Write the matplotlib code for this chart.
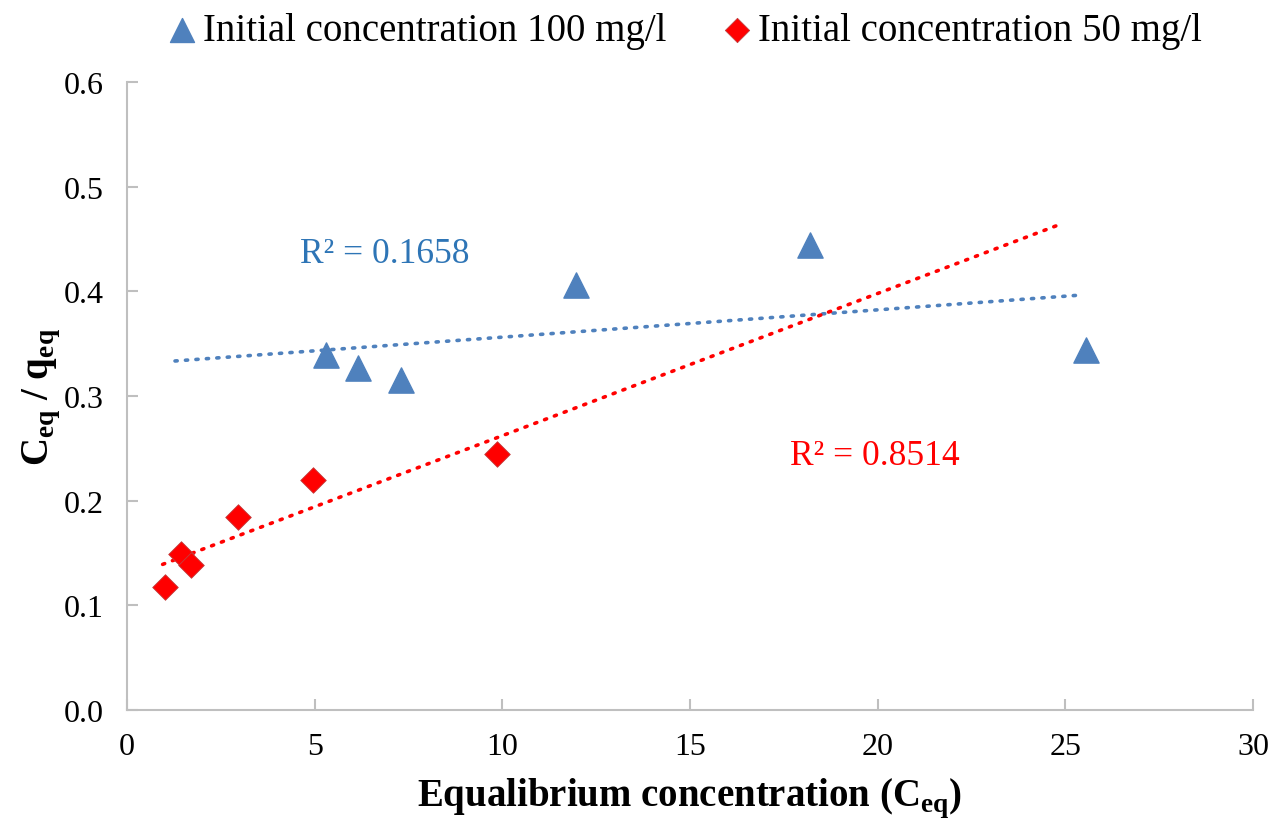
import numpy as np
import matplotlib
matplotlib.use('Agg')
import matplotlib.pyplot as plt

plt.rcParams['font.family'] = ['Liberation Serif', 'DejaVu Serif']
plt.rcParams['mathtext.fontset'] = 'custom'
plt.rcParams['mathtext.rm'] = 'Liberation Serif'
plt.rcParams['mathtext.bf'] = 'Liberation Serif:bold'

# данные
x100 = [5.3, 6.15, 7.3, 11.95, 18.2, 25.55]
y100 = [0.339, 0.327, 0.315, 0.406, 0.444, 0.344]
x50 = [1.0, 1.45, 1.7, 2.95, 4.95, 9.85]
y50 = [0.118, 0.149, 0.139, 0.184, 0.220, 0.245]
label100 = 'Initial concentration 100 mg/l'
label50 = 'Initial concentration 50 mg/l'
r2_100 = 'R² = 0.1658'
r2_50 = 'R² = 0.8514'
# диапазоны линий тренда (прогноз вперёд/назад как в Excel)
trend100 = (1.28, 25.35)
trend50 = (0.95, 24.8)

blue = '#4F81BD'
red = '#FF0000'
gray = '#BFBFBF'

fig = plt.figure(figsize=(12.8, 8.29), dpi=100)
ax = fig.add_axes([0.0992, 0.1423, 0.8797, 0.7576])

ax.scatter(x100, y100, marker='^', s=330, color=blue, zorder=3, label=label100)
ax.scatter(x50, y50, marker='D', s=170, color=red, edgecolor='#C04040',
           linewidth=0.6, zorder=3, label=label50)

# линейные тренды
k, b = np.polyfit(x100, y100, 1)
xt = np.array(trend100)
ax.plot(xt, k * xt + b, color=blue, lw=2.6, ls=(0, (0.6, 2.3)),
        dash_capstyle='round', zorder=2)
k, b = np.polyfit(x50, y50, 1)
xt = np.array(trend50)
ax.plot(xt, k * xt + b, color=red, lw=2.6, ls=(0, (0.6, 2.3)),
        dash_capstyle='round', zorder=2)

ax.text(4.6, 0.436, r2_100, color='#2E75B6', fontsize=25.5, va='center')
ax.text(17.67, 0.243, r2_50, color=red, fontsize=25.5, va='center')

ax.set_xlim(0, 30)
ax.set_ylim(0, 0.6)
ax.set_xticks(np.arange(0, 31, 5))
ax.set_yticks(np.arange(0, 0.61, 0.1))
ax.set_yticklabels(['%.1f' % v for v in np.arange(0, 0.61, 0.1)])
ax.tick_params(direction='in', length=8, width=1.5, color=gray,
               labelsize=23)
ax.tick_params(axis='y', pad=17)
ax.tick_params(axis='x', pad=16)
for s in ['top', 'right']:
    ax.spines[s].set_visible(False)
for s in ['left', 'bottom']:
    ax.spines[s].set_color(gray)
    ax.spines[s].set_linewidth(1.5)

ax.set_xlabel(r'Equalibrium concentration (C$_{\mathbf{eq}}$)',
              fontsize=28, fontweight='bold', labelpad=10)
ax.set_ylabel(r'C$_{\mathbf{eq}}$ / q$_{\mathbf{eq}}$',
              fontsize=28, fontweight='bold', labelpad=1)

ax.legend(loc='lower center', bbox_to_anchor=(0.493, 1.028), ncol=2,
          frameon=False, fontsize=28, handletextpad=0.05,
          columnspacing=1.3, handlelength=1.0, markerscale=0.95,
          borderaxespad=0)

fig.savefig('out.png', dpi=100)
